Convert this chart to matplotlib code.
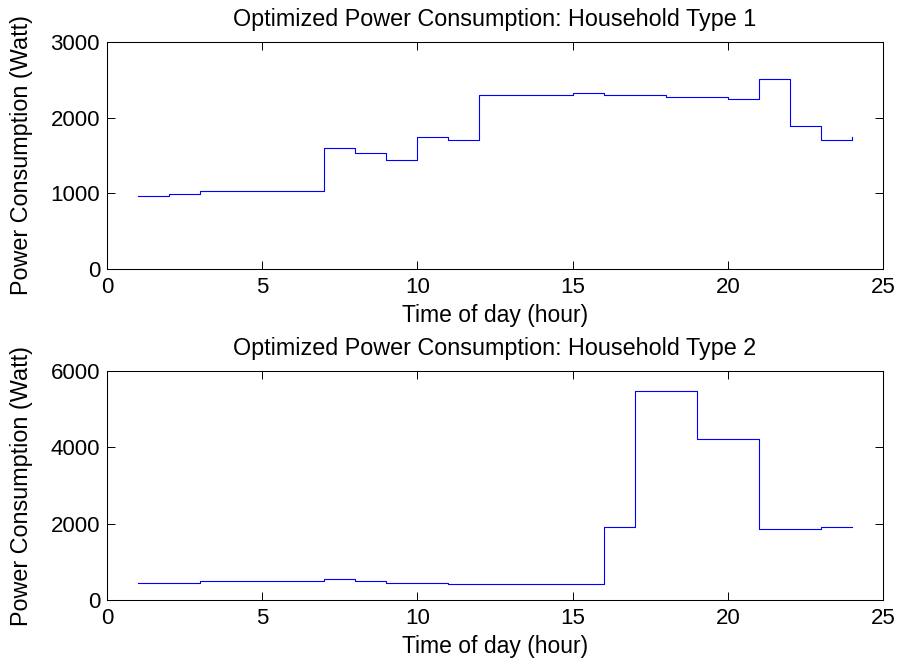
import matplotlib
matplotlib.use('Agg')
import matplotlib.pyplot as plt

# hourly optimized consumption, hours 1..24
hours = list(range(1, 25))
type1_watts = [960, 985, 1025, 1025, 1025, 1025, 1600, 1530, 1445, 1740, 1710, 2295,
               2295, 2295, 2320, 2295, 2295, 2270, 2270, 2245, 2510, 1890, 1700, 1740]
type2_watts = [450, 450, 500, 500, 500, 500, 540, 495, 450, 450, 410, 410,
               410, 410, 410, 1920, 5480, 5480, 4220, 4220, 1870, 1870, 1920, 1920]

x_ticks = [0, 5, 10, 15, 20, 25]
y_ticks_1 = [0, 1000, 2000, 3000]
y_ticks_2 = [0, 2000, 4000, 6000]

plt.rcParams['font.family'] = ['Liberation Sans', 'DejaVu Sans']

W, H = 901, 664
fig = plt.figure(figsize=(W / 100, H / 100), dpi=100)

# axes boxes in pixels: left, top, right, bottom
boxes = [(107, 42, 883, 269), (107, 371, 883, 600)]

panels = [
    (type1_watts, y_ticks_1, 'Optimized Power Consumption: Household Type 1'),
    (type2_watts, y_ticks_2, 'Optimized Power Consumption: Household Type 2'),
]

for (l, t, r, b), (watts, yt, title) in zip(boxes, panels):
    ax = fig.add_axes([l / W, 1 - b / H, (r - l) / W, (b - t) / H])
    ax_h = b - t
    ax_w = r - l
    ax.step(hours, watts, where='post', color='#0000ff', linewidth=0.8)
    ax.set_xlim(0, 25)
    ax.set_ylim(yt[0], yt[-1])
    ax.set_xticks(x_ticks)
    ax.set_yticks(yt)
    ax.tick_params(direction='in', top=True, right=True, length=5.6, width=0.7,
                   labelsize=16, colors='black')
    ax.tick_params(axis='x', pad=6)
    ax.tick_params(axis='y', pad=5)
    for sp in ax.spines.values():
        sp.set_linewidth(0.75)
    ax.set_title(title, fontsize=16.8, pad=11.5)
    ax.set_xlabel('Time of day (hour)', fontsize=16.5)
    ax.set_ylabel('Power Consumption (Watt)', fontsize=16.8)
    ax.xaxis.set_label_coords(0.5, -35 / ax_h)
    ax.yaxis.set_label_coords(-74 / ax_w, 0.5)

fig.savefig('out.png', dpi=100)
